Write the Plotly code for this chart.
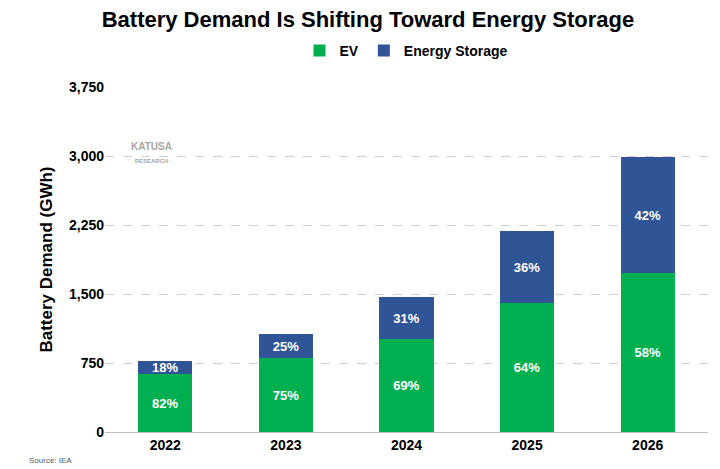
import plotly.graph_objects as go

years = ["2022", "2023", "2024", "2025", "2026"]
ev = [630, 800, 1010, 1400, 1730]
storage = [140, 265, 455, 785, 1255]
ev_pct = ["82%", "75%", "69%", "64%", "58%"]
st_pct = ["18%", "25%", "31%", "36%", "42%"]
yticks = [0, 750, 1500, 2250, 3000, 3750]

fig = go.Figure()
fig.add_bar(x=years, y=ev, name="EV", marker_color="#00B050", text=ev_pct,
            textposition="inside", insidetextanchor="middle",
            textfont=dict(color="white", size=13, weight="bold"))
fig.add_bar(x=years, y=storage, name="Energy Storage", marker_color="#2F5597", text=st_pct,
            textposition="inside", insidetextanchor="middle",
            textfont=dict(color="white", size=13, weight="bold"))
fig.update_layout(
    barmode="stack", bargap=0.55, width=720, height=469,
    paper_bgcolor="white", plot_bgcolor="white",
    font=dict(family="Arial", color="black", weight="bold"),
    title=dict(text="Battery Demand Is Shifting Toward Energy Storage", x=0.5, y=0.975,
               xanchor="center", yanchor="middle", font=dict(size=22, weight="bold")),
    legend=dict(orientation="h", x=0.5, xanchor="center", y=1.105, yanchor="middle",
                font=dict(size=14, weight="bold"), traceorder="normal", itemwidth=30),
    margin=dict(l=97, r=20, t=79, b=45, autoexpand=False),
    uniformtext=dict(minsize=12, mode="show"),
    yaxis=dict(range=[0, 3750], tickvals=yticks, tickformat=",", gridcolor="#D0D0D0",
               griddash="dash", tickfont=dict(size=14, weight="bold"), zeroline=False,
               title=dict(text="Battery Demand (GWh)", font=dict(size=17, weight="bold"), standoff=12)),
    xaxis=dict(tickfont=dict(size=14, weight="bold"), showline=True, linecolor="#BFBFBF"),
    annotations=[
        dict(text="Source: IEA", xref="paper", yref="paper", x=-0.13, y=-0.1, showarrow=False,
             xanchor="left", yanchor="bottom", font=dict(size=8, color="#595959", weight="normal")),
        dict(text="KATUSA<br><span style='font-size:6px'>RESEARCH</span>", xref="paper", yref="paper",
             x=0.04, y=0.85, showarrow=False, xanchor="left",
             font=dict(size=10, color="#A6A6A6")),
    ],
)
fig.update_traces(marker_line_width=0)
fig.write_html("out.html")
